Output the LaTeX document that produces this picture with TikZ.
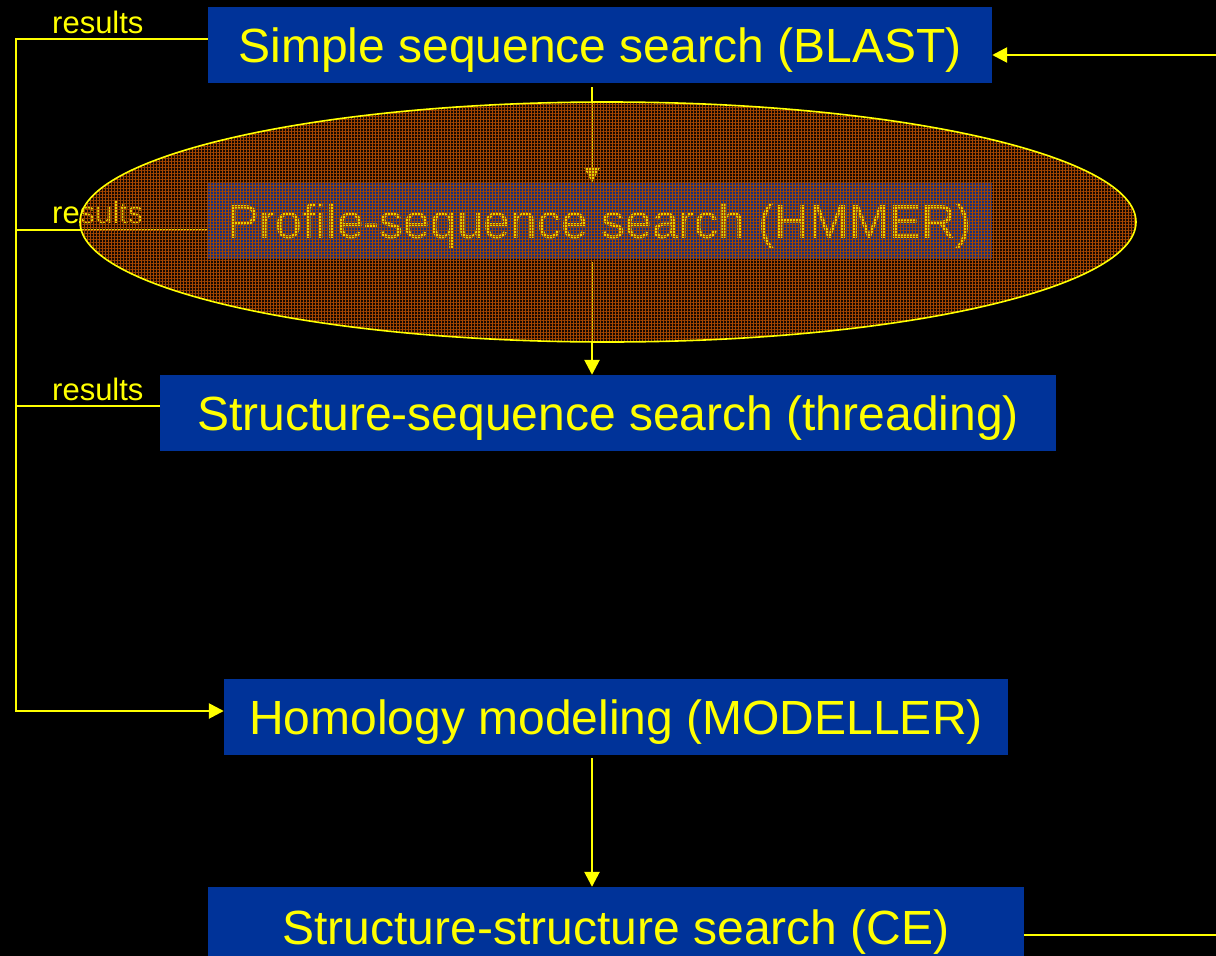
\documentclass[tikz,border=0pt]{standalone}
\usepackage{fontspec}
\setmainfont{Liberation Sans}
\usetikzlibrary{arrows.meta,patterns.meta}
\definecolor{boxblue}{RGB}{0,51,153}
\definecolor{ylw}{RGB}{255,255,0}
\definecolor{rust}{RGB}{110,40,0}
\definecolor{rustline}{RGB}{165,70,0}
\begin{document}
\begin{tikzpicture}[x=1pt,y=-1pt,
  box/.style={fill=boxblue, text=ylw, inner sep=0pt, minimum height=76pt,
    text height=34.4pt, text depth=0pt, font=\fontsize{48}{58}\selectfont},
  conn/.style={draw=ylw, line width=2.6pt},
  arr/.style={conn, -{Triangle[length=15pt,width=15pt]}},
  lbl/.style={text=ylw, inner sep=0pt, anchor=base west, font=\fontsize{31}{37}\selectfont}]
\clip (0,0) rectangle (1216,956);
\fill[black] (0,0) rectangle (1216,956);
% boxes
\node[box, minimum width=784pt] (B1) at (600,45) {Simple sequence search (BLAST)};
\node[box, minimum width=784pt] (B2) at (600,221) {Profile-sequence search (HMMER)};
\node[box, minimum width=896pt] (B3) at (608,413) {Structure-sequence search (threading)};
\node[box, minimum width=784pt] (B4) at (616,717) {Homology modeling (MODELLER)};
\node[box, minimum width=816pt, minimum height=80pt] (B5) at (616,927) {Structure-structure search (CE)};
% coordinates
\coordinate (L1) at (16,39);
\coordinate (L2) at (16,230);
\coordinate (L3) at (16,406);
\coordinate (L4) at (16,711);
\coordinate (R1) at (1217,55);
\coordinate (R2) at (1217,935);
\coordinate (X) at (592,0);
% left connectors
\draw[arr] (B1.west |- L1) -- (L1) -- (L4) -- (B4.west |- L4);
\draw[conn] (B2.west |- L2) -- (L2);
\draw[conn] (B3.west |- L3) -- (L3);
% right connectors
\draw[conn] (B5.east |- R2) -- (R2);
\draw[arr] (R1) -- (B1.east |- R1);
% vertical arrows
\draw[arr] ([yshift=-4pt]B1.south -| X) -- (B2.north -| X);
\draw[arr] ([yshift=-3pt]B2.south -| X) -- (B3.north -| X);
\draw[arr] ([yshift=-3pt]B4.south -| X) -- (B5.north -| X);
% labels
\node[lbl] (T1) at (52,33) {results};
\node[lbl] (T2) at (52,223) {results};
\node[lbl] (T3) at (52,400) {results};
% ellipse overlay
\fill[rust, fill opacity=0.2] (608,222) ellipse [x radius=528, y radius=120];
\path[pattern={Lines[angle=0,distance=3pt,line width=0.5pt]}, pattern color=rustline]
  (608,222) ellipse [x radius=528, y radius=120];
\path[pattern={Lines[angle=90,distance=3pt,line width=0.5pt]}, pattern color=rustline]
  (608,222) ellipse [x radius=528, y radius=120];
\draw[ylw, line width=1.6pt] (608,222) ellipse [x radius=528, y radius=120];
\end{tikzpicture}
\end{document}
